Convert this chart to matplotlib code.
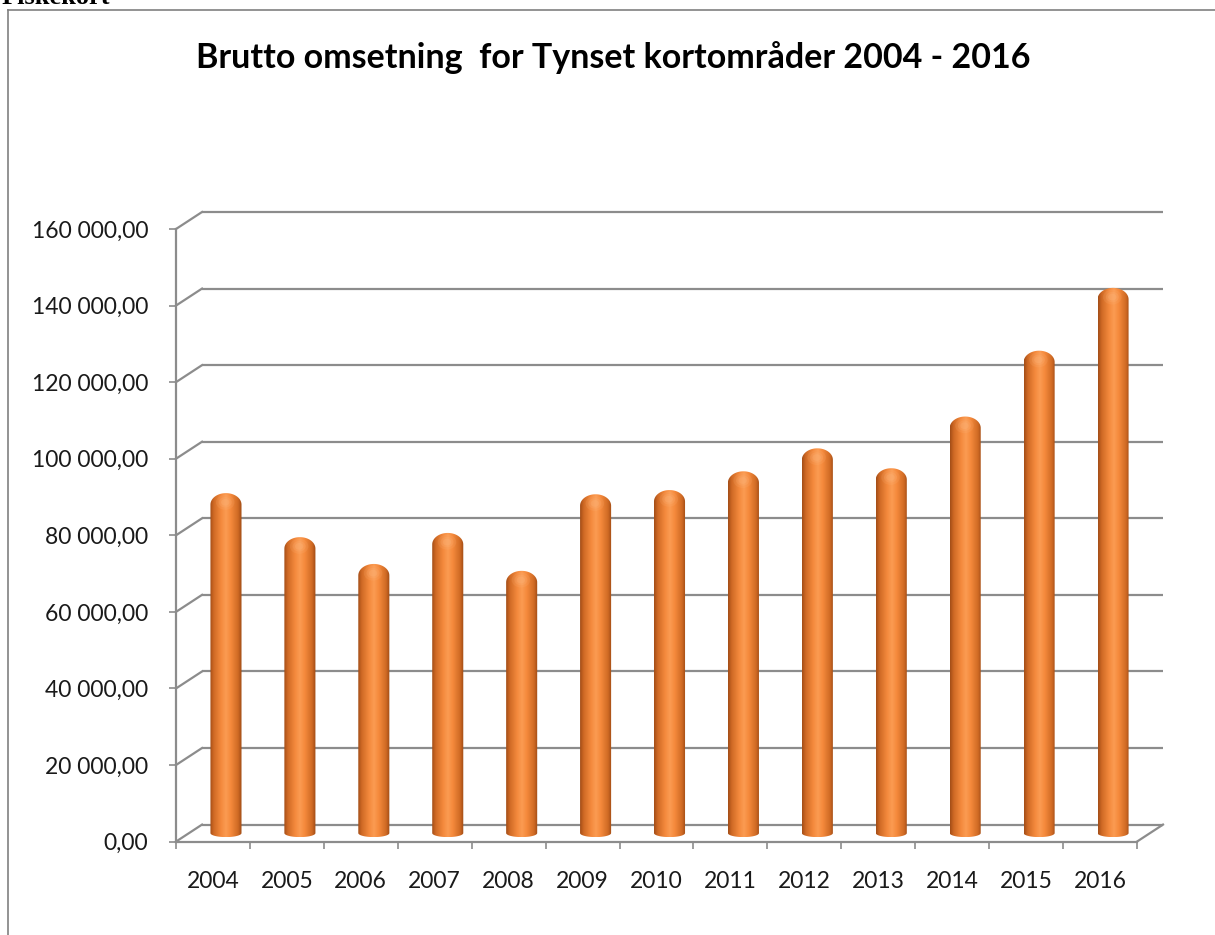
import matplotlib
matplotlib.use('Agg')
import matplotlib.pyplot as plt
import numpy as np
from matplotlib.path import Path
from matplotlib.patches import PathPatch, Ellipse
from matplotlib.colors import LinearSegmentedColormap
from matplotlib.ticker import FuncFormatter

# data
years = ['2004', '2005', '2006', '2007', '2008', '2009', '2010',
         '2011', '2012', '2013', '2014', '2015', '2016']
values = [85800, 74300, 67300, 75400, 65500, 85500, 86600,
          91500, 97500, 92300, 105800, 123000, 139400]
yticks = [0, 20000, 40000, 60000, 80000, 100000, 120000, 140000, 160000]
title = 'Brutto omsetning  for Tynset kortområder 2004 - 2016'

grid_col = '#8c8c8c'
# fake 3d depth, in data units
dx = 0.352
dy = 4440
bar_w = 0.42
cap = 3000     # height of round top
bot = 1045     # half height of bottom ellipse

cyl = LinearSegmentedColormap.from_list('cyl', [
    (0.0, '#a24d17'), (0.12, '#d06a25'), (0.35, '#f48a3d'),
    (0.5, '#fb9b52'), (0.65, '#f58a3c'), (0.88, '#cf6a24'), (1.0, '#9c4914')])

fig = plt.figure(figsize=(12.15, 9.35), dpi=100)
ax = fig.add_axes([176/1215, (935-841.6)/935, 961/1215, 612.6/935])
ax.set_xlim(0, 13)
ax.set_ylim(0, 160000)

# back wall grid + left diagonals
n = len(years)
for yv in yticks:
    ax.plot([dx, n+dx], [yv+dy, yv+dy], color=grid_col, lw=1.6,
            clip_on=False, zorder=1, solid_capstyle='butt')
    ax.plot([0, dx], [yv, yv+dy], color=grid_col, lw=1.6,
            clip_on=False, zorder=1)
# right floor edge
ax.plot([n, n+dx], [0, dy], color=grid_col, lw=1.6, clip_on=False, zorder=1)

# cylinders
t1 = np.linspace(np.pi, 2*np.pi, 40)
t2 = np.linspace(0, np.pi, 60)
for i, v in enumerate(values):
    cx = i + 0.5 + dx/2
    y0 = dy/2
    top = y0 + v
    xs = np.concatenate([cx + bar_w/2*np.cos(t1), cx + bar_w/2*np.cos(t2)])
    ys = np.concatenate([y0 + bot*np.sin(t1), top + cap*np.sin(t2)])
    verts = np.column_stack([xs, ys])
    patch = PathPatch(Path(np.vstack([verts, verts[:1]]), closed=True),
                      facecolor='none', edgecolor='none')
    ax.add_patch(patch)
    im = ax.imshow(np.linspace(0, 1, 256)[None, :], cmap=cyl, aspect='auto',
                   extent=[cx-bar_w/2, cx+bar_w/2, y0-bot, top+cap],
                   interpolation='bilinear', zorder=3)
    im.set_clip_path(patch)
    # soft glow near the top
    for k, a in [(1.0, 0.12), (0.7, 0.15), (0.45, 0.18)]:
        hl = Ellipse((cx - 0.01, top + cap*0.2), bar_w*0.6*k, cap*1.3*k,
                     facecolor='#ffc28e', edgecolor='none', alpha=a, zorder=4)
        ax.add_patch(hl)

ax.set_xlim(0, 13)
ax.set_ylim(0, 160000)

# axes
for s in ['top', 'right']:
    ax.spines[s].set_visible(False)
ax.spines['left'].set_color(grid_col)
ax.spines['bottom'].set_color(grid_col)
ax.spines['left'].set_linewidth(1.6)
ax.spines['bottom'].set_linewidth(1.6)
ax.patch.set_alpha(0)

ax.set_yticks(yticks)
ax.yaxis.set_major_formatter(FuncFormatter(
    lambda v, p: f'{int(v):,}'.replace(',', ' ') + ',00'))
ax.tick_params(axis='y', length=5, width=1.2, color=grid_col, pad=15,
               labelsize=16.5, labelcolor='#1a1a1a')

ax.set_xticks(np.arange(0, n+1))
ax.set_xticklabels([])
ax.set_xticks(np.arange(n) + 0.5, minor=True)
ax.set_xticklabels(years, minor=True)
ax.tick_params(axis='x', which='major', length=5, width=1.2, color=grid_col)
ax.tick_params(axis='x', which='minor', length=0, pad=21, labelsize=16.5,
               labelcolor='#1a1a1a')
for lab in ax.get_xticklabels(minor=True) + ax.get_yticklabels():
    lab.set_family('Lato')

fig.text(0.5045, 1 - 58/935, title, ha='center', va='center',
         fontsize=24.5, fontweight='bold', family='Lato', color='#000000')

# outer frame and cut-off heading
fig.add_artist(plt.Line2D([8/1215, 8/1215], [1 - 10/935, 0],
                          transform=fig.transFigure, color='#808080', lw=1.2))
fig.add_artist(plt.Line2D([8/1215, 1], [1 - 10/935, 1 - 10/935],
                          transform=fig.transFigure, color='#808080', lw=1.2))
fig.text(2/1215, 1 - 4/935, 'Fiskekort', ha='left', va='baseline',
         fontsize=19, fontweight='bold', family='Liberation Serif')

fig.savefig('out.png', dpi=100)
